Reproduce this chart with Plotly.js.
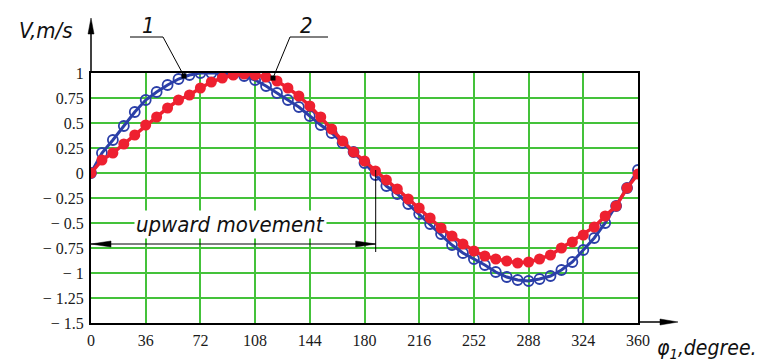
<!DOCTYPE html>
<html><head><meta charset="utf-8">
<script src="https://cdn.plot.ly/plotly-3.0.1.min.js"></script>
<style>body{margin:0;background:#fff}</style>
</head><body><div id="chart" style="width:766px;height:361px"></div>
<script>
const phi = [0,7.2,14.4,21.6,28.8,36,43.2,50.4,57.6,64.8,72,79.2,86.4,93.6,100.8,108,115.2,122.4,129.6,136.8,144,151.2,158.4,165.6,172.8,180,187.2,194.4,201.6,208.8,216,223.2,230.4,237.6,244.8,252,259.2,266.4,273.6,280.8,288,295.2,302.4,309.6,316.8,324,331.2,338.4,345.6,352.8,360];
const v1 = [0,0.20,0.33,0.47,0.61,0.73,0.81,0.88,0.94,0.98,1.0,1.0,1.0,0.99,0.97,0.93,0.87,0.80,0.73,0.66,0.57,0.48,0.40,0.30,0.21,0.10,-0.02,-0.13,-0.21,-0.31,-0.41,-0.51,-0.61,-0.72,-0.80,-0.86,-0.92,-0.99,-1.04,-1.07,-1.08,-1.06,-1.03,-0.97,-0.89,-0.77,-0.65,-0.50,-0.33,-0.15,0.03];
const v2 = [0,0.13,0.20,0.29,0.38,0.48,0.56,0.65,0.73,0.78,0.85,0.91,0.95,0.98,0.99,0.98,0.96,0.92,0.85,0.77,0.67,0.56,0.44,0.32,0.21,0.12,0.02,-0.07,-0.16,-0.26,-0.35,-0.45,-0.55,-0.63,-0.71,-0.78,-0.83,-0.86,-0.88,-0.90,-0.89,-0.86,-0.82,-0.75,-0.69,-0.62,-0.54,-0.43,-0.33,-0.15,-0.01];
const xTicks = [0,36,72,108,144,180,216,252,288,324,360];
const yTicks = [1,0.75,0.5,0.25,0,-0.25,-0.5,-0.75,-1,-1.25,-1.5];
const yTickText = ['1','0.75','0.5','0.25','0','\u2212 0.25','\u2212 0.5','\u2212 0.75','\u2212 1','\u2212 1.25','\u2212 1.5'];
const curveNames = ['1','2'];

const L = 91, R = 128, T = 73, B = 38, W = 766, H = 361;
const pw = W - L - R, ph = H - T - B;
const px = p => (p - L) / pw;
const py = p => (H - B - p) / ph;

const blue = '#2b3fa8', red = '#ee2030', grid = '#44c23a';
const gost = {family: '"DejaVu Sans Condensed", "DejaVu Sans", sans-serif', style: 'italic', color: '#111', size: 22};
const serif = {family: '"Liberation Serif", "Times New Roman", serif', size: 16, color: '#1a1a1a'};

const traces = [
  {x: phi, y: v1, name: curveNames[0], mode: 'lines+markers', line: {color: blue, width: 3},
   marker: {symbol: 'circle-open', size: 10, color: blue, line: {width: 1.8, color: blue}}},
  {x: phi, y: v2, name: curveNames[1], mode: 'lines+markers', line: {color: red, width: 3.5},
   marker: {symbol: 'circle', size: 11, color: red}}
];

const ln = (x0, y0, x1, y1, w) => ({type: 'line', xref: 'paper', yref: 'paper', x0: px(x0), y0: py(y0), x1: px(x1), y1: py(y1), line: {color: '#000', width: w || 1}});
const sq = (x, y) => ({type: 'rect', xref: 'paper', yref: 'paper', x0: px(x-2.5), x1: px(x+2.5), y0: py(y-2.5), y1: py(y+2.5), fillcolor: '#000', line: {width: 0}});
// arrowhead triangle: tip (tx,ty), direction unit (dx,dy) pointing toward tip, length len, half width hw (pixels)
const head = (tx, ty, dx, dy, len, hw) => {
  const bx = tx - dx * len, by = ty - dy * len;
  const nx = -dy, ny = dx;
  const p = (x, y) => px(x) + ',' + py(y);
  return {type: 'path', xref: 'paper', yref: 'paper', path: 'M' + p(tx, ty) + ' L' + p(bx + nx * hw, by + ny * hw) + ' L' + p(bx - nx * hw, by - ny * hw) + ' Z', fillcolor: '#000', line: {color: '#000', width: 0.5}};
};

const arrowY = 244, arrowX1 = 375.7;
const shapes = [
  ln(130, 37, 163, 37), ln(163, 37, 184, 76), sq(184, 76),
  ln(290, 37, 328, 37), ln(290, 37, 273, 78), sq(273, 78),
  ln(arrowX1, 170, arrowX1, 252),
  ln(91, arrowY, arrowX1, arrowY), head(91, arrowY, -1, 0, 20, 3), head(arrowX1, arrowY, 1, 0, 20, 3),
  ln(91, 73, 91, 24, 1.5), head(91, 18, 0, -1, 16, 3),
  ln(638, 322, 672, 322, 1.5), head(678, 322, 1, 0, 18, 3)
];

const txt = (x, y, t, xa, sz) => ({xref: 'paper', yref: 'paper', x: px(x), y: py(y), xanchor: xa || 'center', yanchor: 'middle', text: t, showarrow: false, font: Object.assign({}, gost, sz ? {size: sz} : {})});

const annotations = [
  txt(148, 25, '1'),
  txt(306, 25, '2'),
  txt(46, 30, 'V,m/s'),
  txt(655, 349, '\u03c6<sub>1</sub>,degree.', 'left', 21),
  {xref: 'x', yref: 'y', x: 92, y: -0.51, yanchor: 'middle', text: 'upward movement', showarrow: false, bgcolor: '#fff', borderpad: 1, font: gost}
];

const layout = {
  width: W, height: H, margin: {l: L, r: R, t: T, b: B},
  paper_bgcolor: '#fff', plot_bgcolor: '#fff', showlegend: false,
  xaxis: {range: [0, 360], tickvals: xTicks, ticktext: xTicks.map(String), showgrid: true, gridcolor: grid, gridwidth: 2,
    zeroline: false, showline: true, linecolor: '#000', linewidth: 2, mirror: true, ticks: '', tickfont: serif, ticklabelstandoff: 2},
  yaxis: {range: [-1.5, 1], tickvals: yTicks, ticktext: yTickText, showgrid: true, gridcolor: grid, gridwidth: 2,
    zeroline: false, showline: true, linecolor: '#000', linewidth: 2, mirror: true, ticks: '', tickfont: serif, ticklabelstandoff: 2},
  shapes: shapes, annotations: annotations
};

Plotly.newPlot('chart', traces, layout, {displayModeBar: false, staticPlot: true});
</script></body></html>
